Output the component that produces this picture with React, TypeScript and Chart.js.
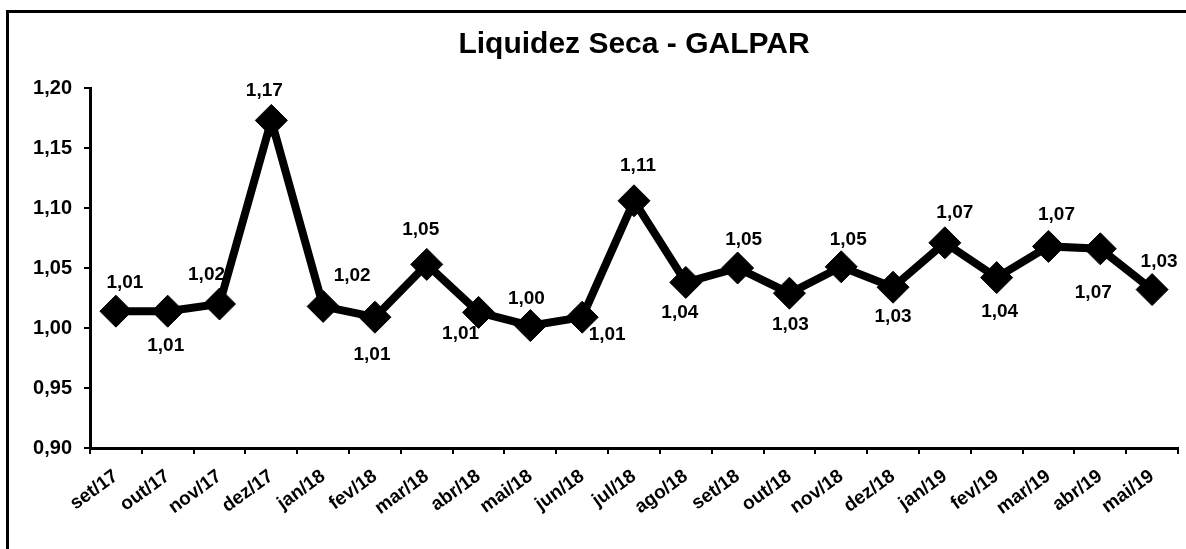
import React, { useEffect, useRef } from "react";
import { Chart, registerables } from "chart.js";

Chart.register(...registerables);

const TITLE = "Liquidez Seca - GALPAR";

const categories = [
  "set/17", "out/17", "nov/17", "dez/17", "jan/18", "fev/18", "mar/18",
  "abr/18", "mai/18", "jun/18", "jul/18", "ago/18", "set/18", "out/18",
  "nov/18", "dez/18", "jan/19", "fev/19", "mar/19", "abr/19", "mai/19",
];

const liquidezSeca = [
  1.014, 1.014, 1.02, 1.173, 1.018, 1.009, 1.053,
  1.013, 1.002, 1.009, 1.106, 1.038, 1.05, 1.029,
  1.051, 1.034, 1.071, 1.042, 1.068, 1.066, 1.032,
];

const yTicks = { min: 0.9, max: 1.2, step: 0.05 };

// label offsets (relative to each point) for the value labels
const labelOffsets: [number, number][] = [
  [9, -28], [-2, 35], [-13, -29], [-7, -30], [29, -31], [-3, 38], [-6, -35],
  [-18, 21], [-4, -27], [25, 18], [4, -35], [-6, 30], [6, -28], [1, 32],
  [7, -27], [0, 30], [10, -30], [3, 34], [8, -32], [-7, 44], [7, -28],
];

const FONT = "'Liberation Sans', Arial, Helvetica, sans-serif";

const fmt = (v: number) => v.toFixed(2).replace(".", ",");

const overlay = {
  id: "overlay",
  afterDatasetsDraw(chart: any) {
    const ctx = chart.ctx;
    const meta = chart.getDatasetMeta(0);
    const area = chart.chartArea;
    ctx.save();
    ctx.fillStyle = "#000";
    ctx.textAlign = "center";
    ctx.textBaseline = "middle";
    ctx.font = `bold 30px ${FONT}`;
    ctx.fillText(TITLE, (area.left + area.right) / 2, 45);
    ctx.font = `bold 19px ${FONT}`;
    meta.data.forEach((pt: any, i: number) => {
      const [dx, dy] = labelOffsets[i] || [0, -30];
      ctx.fillText(fmt(liquidezSeca[i]), pt.x + dx, pt.y + dy);
    });
    ctx.restore();
  },
};

export default function App() {
  const ref = useRef<HTMLCanvasElement | null>(null);

  useEffect(() => {
    if (!ref.current) return;
    const chart = new Chart(ref.current, {
      type: "line",
      data: {
        labels: categories,
        datasets: [
          {
            data: liquidezSeca,
            borderColor: "#000",
            borderWidth: 8,
            tension: 0,
            pointStyle: "rectRot",
            pointRadius: 16,
            pointBackgroundColor: "#000",
            pointBorderColor: "#000",
            pointBorderWidth: 1,
            clip: false as any,
          },
        ],
      },
      options: {
        responsive: false,
        animation: false,
        layout: { padding: { left: 0, right: 0, top: 88, bottom: 0 } },
        plugins: {
          legend: { display: false },
          tooltip: { enabled: false },
          title: { display: false },
        },
        scales: {
          x: {
            offset: true,
            grid: {
              display: true,
              offset: true,
              drawOnChartArea: false,
              drawTicks: true,
              tickLength: 6,
              color: "#000",
              lineWidth: 2,
            },
            border: { display: true, color: "#000", width: 3 },
            ticks: {
              color: "#000",
              font: { family: FONT, size: 19, weight: "bold" },
              minRotation: 36,
              maxRotation: 36,
              autoSkip: false,
              padding: 11,
            },
            afterFit: (s: any) => {
              s.height = 101;
              s.paddingLeft = 0;
              s.paddingRight = 0;
            },
          },
          y: {
            min: yTicks.min,
            max: yTicks.max,
            grid: {
              display: true,
              drawOnChartArea: false,
              drawTicks: true,
              tickLength: 6,
              color: "#000",
              lineWidth: 2,
            },
            border: { display: true, color: "#000", width: 3 },
            ticks: {
              stepSize: yTicks.step,
              color: "#000",
              font: { family: FONT, size: 20, weight: "bold" },
              padding: 12,
              callback: (v: any) => fmt(Number(v)),
            },
            afterFit: (s: any) => {
              s.width = 90;
              s.paddingTop = 0;
              s.paddingBottom = 0;
            },
          },
        },
      },
      plugins: [overlay],
    } as any);
    return () => chart.destroy();
  }, []);

  return (
    <div
      style={{
        position: "fixed",
        left: 0,
        top: 0,
        width: 1186,
        height: 549,
        background: "#fff",
        overflow: "hidden",
      }}
    >
      <div
        style={{
          position: "absolute",
          left: 6,
          top: 10,
          width: 1300,
          height: 700,
          borderTop: "3px solid #000",
          borderLeft: "3px solid #000",
        }}
      />
      <canvas
        ref={ref}
        width={1195}
        height={549}
        style={{ position: "absolute", left: 0, top: 0 }}
      />
    </div>
  );
}
